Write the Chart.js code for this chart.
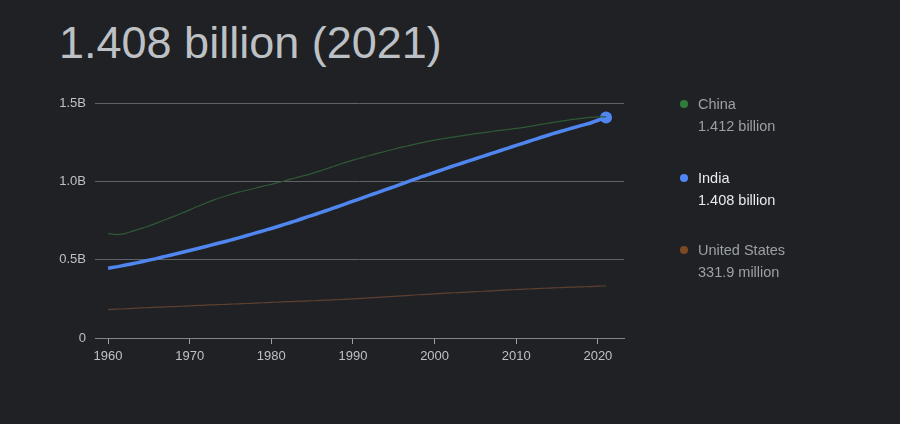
<!DOCTYPE html>
<html>
<head>
<meta charset="utf-8">
<script src="https://cdn.jsdelivr.net/npm/chart.js@4/dist/chart.umd.min.js"></script>
<style>
  html, body { margin: 0; padding: 0; background: #202124; }
  body { width: 900px; height: 424px; position: relative; overflow: hidden; font-family: "Liberation Sans", Arial, sans-serif; }
  #title { position: absolute; left: 59px; top: 17px; font-size: 45px; color: #bdc1c6; white-space: nowrap; }
  #wrap { position: absolute; left: 0; top: 0; width: 900px; height: 424px; }
  .leg { position: absolute; left: 680px; font-size: 14.5px; line-height: 22px; color: #9aa0a6; }
  .leg .dot { position: absolute; left: 0; top: 7px; width: 8px; height: 8px; border-radius: 50%; }
  .leg .txt { margin-left: 18px; }
  .leg.active { color: #e8eaed; }
</style>
</head>
<body>
<div id="title">1.408 billion (2021)</div>
<div id="wrap"><canvas id="chart" width="900" height="424"></canvas></div>
<div id="legend"></div>
<script>
// values, in billions
const years = [];
for (let y = 1960; y <= 2021; y++) years.push(y);

const china = [
  0.667, 0.660, 0.666, 0.682, 0.698, 0.715, 0.735, 0.755, 0.775, 0.796,
  0.818, 0.841, 0.862, 0.882, 0.900, 0.916, 0.931, 0.943, 0.956, 0.969,
  0.981, 0.994, 1.009, 1.023, 1.036, 1.051, 1.067, 1.084, 1.102, 1.119,
  1.135, 1.150, 1.165, 1.178, 1.192, 1.205, 1.218, 1.230, 1.242, 1.253,
  1.263, 1.272, 1.280, 1.288, 1.296, 1.304, 1.311, 1.318, 1.325, 1.331,
  1.338, 1.345, 1.354, 1.363, 1.372, 1.380, 1.388, 1.396, 1.402, 1.408,
  1.411, 1.412,
];
const india = [
  0.445, 0.454, 0.464, 0.474, 0.485, 0.497, 0.508, 0.521, 0.533, 0.546,
  0.558, 0.571, 0.584, 0.598, 0.611, 0.625, 0.639, 0.654, 0.669, 0.684,
  0.699, 0.715, 0.732, 0.748, 0.766, 0.783, 0.800, 0.818, 0.836, 0.854,
  0.873, 0.891, 0.910, 0.928, 0.947, 0.965, 0.984, 1.003, 1.021, 1.040,
  1.057, 1.075, 1.093, 1.110, 1.127, 1.144, 1.161, 1.178, 1.195, 1.212,
  1.229, 1.246, 1.263, 1.280, 1.296, 1.312, 1.327, 1.342, 1.357, 1.371,
  1.390, 1.408,
];
const usa = [
  0.1807, 0.1837, 0.1865, 0.1892, 0.1919, 0.1943, 0.1966, 0.1987, 0.2007, 0.2027,
  0.2051, 0.2077, 0.2099, 0.2119, 0.2139, 0.2160, 0.2180, 0.2202, 0.2226, 0.2251,
  0.2272, 0.2295, 0.2317, 0.2338, 0.2358, 0.2379, 0.2401, 0.2423, 0.2445, 0.2468,
  0.2496, 0.2530, 0.2565, 0.2599, 0.2631, 0.2663, 0.2694, 0.2727, 0.2759, 0.2790,
  0.2822, 0.2850, 0.2876, 0.2901, 0.2928, 0.2955, 0.2984, 0.3012, 0.3041, 0.3068,
  0.3093, 0.3117, 0.3141, 0.3164, 0.3187, 0.3207, 0.3231, 0.3251, 0.3268, 0.3283,
  0.3315, 0.3319,
];

const xTicks = [1960, 1970, 1980, 1990, 2000, 2010, 2020];
const yTicks = [0, 0.5, 1.0, 1.5];
const yTickLabels = ["0", "0.5B", "1.0B", "1.5B"];

const legendItems = [
  { name: "China", value: "1.412 billion", color: "#2f7d3b", top: 93 },
  { name: "India", value: "1.408 billion", color: "#4f86f7", top: 167, active: true },
  { name: "United States", value: "331.9 million", color: "#7c4a22", top: 239 },
];

const legendEl = document.getElementById("legend");
legendItems.forEach((it) => {
  const d = document.createElement("div");
  d.className = "leg" + (it.active ? " active" : "");
  d.style.top = it.top + "px";
  d.innerHTML = '<span class="dot" style="background:' + it.color + '"></span>' +
    '<div class="txt">' + it.name + "<br>" + it.value + "</div>";
  legendEl.appendChild(d);
});

function pts(arr) {
  return arr.map((v, i) => ({ x: years[i], y: v }));
}

const lastIdx = years.length - 1;
const tickFont = { size: 13, family: "'Liberation Sans', Arial, sans-serif" };

const ctx = document.getElementById("chart");
new Chart(ctx, {
  type: "line",
  data: {
    datasets: [
      {
        label: "United States",
        data: pts(usa),
        borderColor: "#5e4030",
        borderWidth: 1.2,
        pointRadius: 0,
        tension: 0.3,
      },
      {
        label: "China",
        data: pts(china),
        borderColor: "#2e5a37",
        borderWidth: 1.2,
        pointRadius: 0,
        tension: 0.3,
      },
      {
        label: "India",
        data: pts(india),
        borderColor: "#4f86f0",
        backgroundColor: "#4f86f0",
        borderWidth: 3.5,
        pointRadius: (c) => (c.dataIndex === lastIdx ? 6 : 0),
        pointBorderWidth: 0,
        tension: 0.3,
      },
    ],
  },
  options: {
    responsive: false,
    animation: false,
    layout: { padding: { top: 103, right: 276, left: 0, bottom: 0 } },
    plugins: { legend: { display: false }, tooltip: { enabled: false } },
    scales: {
      x: {
        type: "linear",
        min: 1958.4,
        max: 2023.2,
        afterBuildTicks: (s) => { s.ticks = xTicks.map((v) => ({ value: v })); },
        afterFit: (s) => { s.height = 86; },
        grid: { drawOnChartArea: false, drawTicks: true, tickLength: 6, color: "#9aa0a6" },
        border: { display: true, color: "#80868b" },
        ticks: {
          color: "#bdc1c6",
          font: tickFont,
          padding: 5,
          maxRotation: 0,
          callback: (v) => String(v),
        },
      },
      y: {
        min: 0,
        max: 1.5,
        afterBuildTicks: (s) => { s.ticks = yTicks.map((v) => ({ value: v })); },
        afterFit: (s) => { s.width = 95; },
        grid: { color: "#5f6368", drawTicks: false },
        border: { display: false },
        ticks: {
          color: "#bdc1c6",
          font: tickFont,
          padding: 9,
          callback: (v) => yTickLabels[yTicks.indexOf(v)],
        },
      },
    },
  },
});
</script>
</body>
</html>
